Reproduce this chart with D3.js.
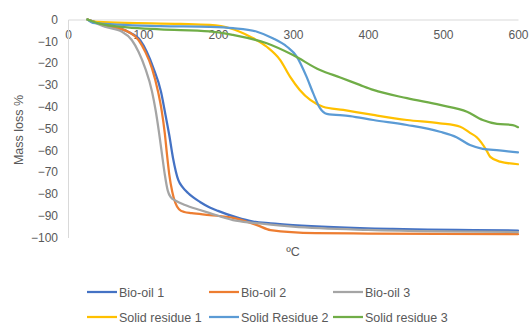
<!DOCTYPE html>
<html>
<head>
<meta charset="utf-8">
<script src="https://cdn.jsdelivr.net/npm/d3@7"></script>
<style>
body { margin: 0; background: #fff; }
svg text { font-family: "Liberation Sans", Arial, sans-serif; fill: #595959; }
</style>
</head>
<body>
<svg id="chart" width="531" height="324"></svg>
<script>
// data: [temperature ºC, mass loss %]
var bioOil1 = [[26,0],[49,-2.5],[80,-5.6],[96,-9.4],[105,-14.8],[114,-22.4],[124,-33.1],[130,-43.8],[135,-53],[140,-63.5],[147,-73.6],[153,-77],[160,-79.6],[176,-83.7],[189,-86.2],[200,-87.8],[225,-90.8],[247,-92.7],[270,-93.5],[300,-94.3],[433,-96.1],[600,-96.8]];
var bioOil2 = [[26,0],[49,-2.5],[80,-5.6],[94,-9.4],[103,-14.8],[112,-22.4],[120,-33],[125,-42],[129,-52],[132,-62],[135,-71],[139,-79],[143,-84],[148,-87],[155,-88.3],[165,-88.8],[189,-89.7],[220,-91],[252,-94.3],[270,-96.6],[330,-98],[400,-98.2],[600,-98.5]];
var bioOil3 = [[26,0],[49,-3.3],[72,-5.6],[85,-9.4],[94,-14.8],[103,-22.4],[112,-33],[117,-42],[121,-51],[125,-61],[129,-71],[133,-78.5],[137,-81.5],[143,-83],[156,-85.1],[176,-87.4],[189,-88.8],[220,-92],[247,-93.3],[300,-95],[400,-96.5],[500,-97.2],[600,-97.5]];
var solid1 = [[26,0],[33,-1],[79,-1.5],[150,-2],[189,-2.5],[216,-4],[229,-5.6],[243,-7.9],[265,-12.5],[283,-18.6],[296,-26.2],[309,-32.3],[323,-36.9],[340,-40],[367,-41.5],[407,-43.8],[452,-46.1],[496,-47.6],[523,-49.2],[536,-52],[545,-54],[558,-60],[563,-63],[576,-65.2],[600,-66.4]];
var solid2 = [[26,0],[33,-1.5],[123,-3],[189,-3.4],[220,-4],[252,-5.6],[273,-8.6],[292,-12.5],[305,-17],[318,-26.2],[327,-33.9],[336,-40.7],[345,-43.3],[376,-44.3],[407,-46.1],[452,-48.4],[496,-51.5],[518,-54],[536,-57.6],[553,-59.3],[575,-60],[600,-61]];
var solid3 = [[26,0],[43,-2],[79,-3.6],[123,-4.5],[189,-5.4],[220,-7.1],[265,-10.9],[300,-16.3],[336,-23.2],[363,-26.6],[389,-30],[407,-32.3],[452,-36.1],[496,-39.2],[532,-42.3],[553,-46.1],[572,-47.9],[593,-48.4],[600,-49.4]];

var seriesNames = ["Bio-oil 1", "Bio-oil 2", "Bio-oil 3", "Solid residue 1", "Solid Residue 2", "Solid residue 3"];
var seriesData = [bioOil1, bioOil2, bioOil3, solid1, solid2, solid3];
var colors = ["#4472C4", "#ED7D31", "#A5A5A5", "#FFC000", "#5B9BD5", "#70AD47"];
var xTicks = [0, 100, 200, 300, 400, 500, 600];
var yTicks = [0, -10, -20, -30, -40, -50, -60, -70, -80, -90, -100];

var svg = d3.select("#chart");
var x = d3.scaleLinear().domain([0, 600]).range([68, 518]);
var y = d3.scaleLinear().domain([-100, 0]).range([237.5, 19.5]);

// axes (x axis sits on top at y = 0)
var xAxis = svg.append("g").attr("transform", "translate(0," + y(0) + ")")
    .call(d3.axisBottom(x).tickValues(xTicks).tickSize(0).tickPadding(11));
var yAxis = svg.append("g").attr("transform", "translate(" + x(0) + ",0)")
    .call(d3.axisLeft(y).tickValues(yTicks).tickSize(0).tickPadding(10));
[xAxis, yAxis].forEach(function(a){
    a.select(".domain").attr("stroke", "#D9D9D9").attr("stroke-width", 1);
    a.selectAll("text").attr("font-size", 12).attr("fill", "#595959")
        .attr("font-family", "Liberation Sans, Arial, sans-serif");
});

// titles
svg.append("text")
    .attr("transform", "translate(23,130) rotate(-90)")
    .attr("text-anchor", "middle").attr("font-size", 12.5)
    .text("Mass loss %");
svg.append("text")
    .attr("x", 293).attr("y", 256)
    .attr("text-anchor", "middle").attr("font-size", 12.5)
    .text("ºC");

// lines
var line = d3.line()
    .x(function(d){ return x(d[0]); })
    .y(function(d){ return y(d[1]); })
    .curve(d3.curveMonotoneX);

svg.selectAll("path.series")
   .data(seriesData)
   .enter()
   .append("path")
   .attr("class", "series")
   .attr("d", line)
   .attr("fill", "none")
   .attr("stroke", function(d, i){ return colors[i]; })
   .attr("stroke-width", 2.25)
   .attr("stroke-linejoin", "round")
   .attr("stroke-linecap", "round");

// legend, 3 per row
var legendX = [87, 209, 333];
var legendY = [292, 317];
var items = svg.selectAll("g.legend")
   .data(seriesNames)
   .enter()
   .append("g")
   .attr("class", "legend")
   .attr("transform", function(d, i){
       return "translate(" + legendX[i % 3] + "," + legendY[Math.floor(i / 3)] + ")";
   });
items.append("line")
   .attr("x1", 0).attr("x2", 30).attr("y1", 0).attr("y2", 0)
   .attr("stroke", function(d, i){ return colors[i]; })
   .attr("stroke-width", 2.25);
items.append("text")
   .attr("x", 32).attr("y", 4.5)
   .attr("font-size", 12.5)
   .text(function(d){ return d; });
</script>
</body>
</html>
